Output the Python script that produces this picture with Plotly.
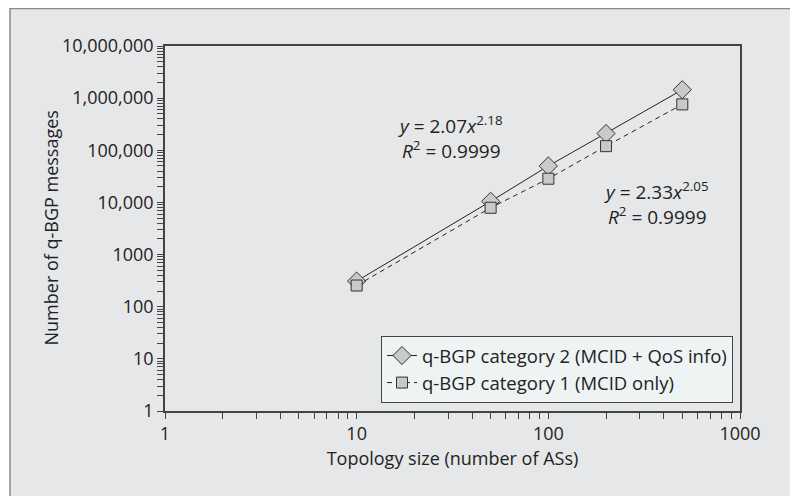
import plotly.graph_objects as go

# Data
topology_size = [10, 50, 100, 200, 500]
cat2_msgs = [310, 10500, 50000, 210000, 1450000]   # q-BGP category 2 (MCID + QoS info)
cat1_msgs = [255, 7900, 28500, 120000, 760000]     # q-BGP category 1 (MCID only)

series_names = ["q-BGP category 2 (MCID + QoS info)", "q-BGP category 1 (MCID only)"]

x_major_vals = [1, 10, 100, 1000]
x_major_text = ["1", "10", "100", "1000"]
x_minor_vals = [v * 10 ** d for d in range(0, 3) for v in range(2, 10)]
y_major_vals = [1, 10, 100, 1000, 10000, 100000, 1000000, 10000000]
y_major_text = ["1", "10", "100", "1000", "10,000", "100,000", "1,000,000", "10,000,000"]
y_minor_vals = [v * 10 ** d for d in range(0, 7) for v in range(2, 10)]

FONT = "Open Sans"
FS = 18
DARK = "#222222"

fig = go.Figure()
fig.add_trace(go.Scatter(
    x=topology_size, y=cat2_msgs, name=series_names[0], mode="lines+markers",
    line=dict(color=DARK, width=1),
    marker=dict(symbol="diamond", size=14, color="#c9c9c9", line=dict(color="#333333", width=1)),
))
fig.add_trace(go.Scatter(
    x=topology_size, y=cat1_msgs, name=series_names[1], mode="lines+markers",
    line=dict(color=DARK, width=1, dash="5px,4px"),
    marker=dict(symbol="square", size=11, color="#c9c9c9", line=dict(color="#333333", width=1)),
))

axis_common = dict(
    type="log", showgrid=False, zeroline=False, showline=True, linecolor="#444444",
    linewidth=1.5, mirror=True, ticks="outside", ticklen=6, tickcolor="#444444",
    tickwidth=1, tickfont=dict(family=FONT, size=FS, color=DARK), automargin=False,
)
minor_common = dict(ticks="outside", ticklen=6, tickcolor="#444444", tickwidth=1, showgrid=False)
fig.update_xaxes(
    **axis_common, range=[0, 3], tickmode="array", tickvals=x_major_vals, ticktext=x_major_text,
    minor=dict(**minor_common, tickmode="array", tickvals=x_minor_vals),
    title=dict(text="Topology size (number of ASs)", font=dict(family=FONT, size=FS, color=DARK), standoff=8),
)
fig.update_yaxes(
    **axis_common, range=[0, 7], tickmode="array", tickvals=y_major_vals, ticktext=y_major_text,
    minor=dict(**minor_common, tickmode="array", tickvals=y_minor_vals),
)

# Page body has an 8px margin, so the figure is sized/offset to compensate
W, H = 790, 488
L, R, T, B = 157, 58, 38, 85
pw, ph = W - L - R, H - T - B

def px_x(page_x):
    return (page_x - 8 - L) / pw

def px_y(page_y):
    return (H - B - (page_y - 8)) / ph

# y-axis title
fig.add_annotation(
    xref="paper", yref="paper", x=px_x(50), y=0.5, xanchor="center", yanchor="middle",
    showarrow=False, textangle=-90, text="Number of q-BGP messages",
    font=dict(family=FONT, size=FS, color=DARK),
)

fig.add_annotation(
    xref="paper", yref="paper", x=px_x(450), y=px_y(137), xanchor="center", yanchor="middle",
    showarrow=False, align="center",
    text="<i>y</i> = 2.07<i>x</i><sup>2.18</sup><br><i>R</i><sup>2</sup> = 0.9999",
    font=dict(family=FONT, size=FS + 1, color=DARK),
)
fig.add_annotation(
    xref="paper", yref="paper", x=px_x(656), y=px_y(203), xanchor="center", yanchor="middle",
    showarrow=False, align="center",
    text="<i>y</i> = 2.33<i>x</i><sup>2.05</sup><br><i>R</i><sup>2</sup> = 0.9999",
    font=dict(family=FONT, size=FS + 1, color=DARK),
)

# Outer framed panel
fig.add_shape(
    type="rect", xref="paper", yref="paper", layer="below",
    x0=px_x(10), x1=px_x(795), y0=px_y(540), y1=px_y(8.6),
    fillcolor="#e6e7e8", line=dict(color="#8a8a8a", width=1.5),
)

fig.update_layout(
    width=W, height=H, margin=dict(l=L, r=R, t=T, b=B, autoexpand=False),
    paper_bgcolor="white", plot_bgcolor="#dce8e6",
    font=dict(family=FONT, size=FS, color=DARK),
    showlegend=True,
    legend=dict(
        x=px_x(733), y=px_y(403), xanchor="right", yanchor="bottom",
        bgcolor="#eef3f3", bordercolor="#444444", borderwidth=1,
        font=dict(family=FONT, size=18.5, color=DARK),
        tracegroupgap=0, itemwidth=30,
    ),
)

fig.write_html("out.html")
